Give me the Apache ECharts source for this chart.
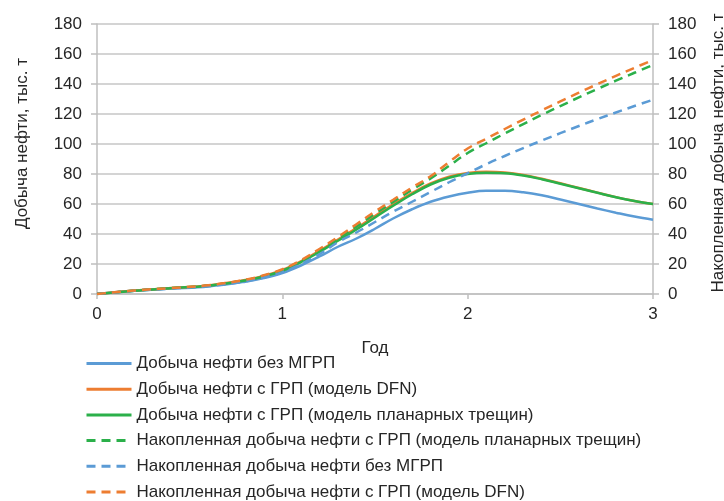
<!DOCTYPE html>
<html>
<head>
<meta charset="utf-8">
<script src="https://cdn.jsdelivr.net/npm/echarts@6/dist/echarts.min.js"></script>
<style>
  html, body { margin: 0; padding: 0; background: #fff; overflow: hidden; }
  #oil_chart { width: 724px; height: 501px; }
</style>
</head>
<body>
<div id="oil_chart"></div>
<script>
// годы (ось X)
var years = [0, 0.2, 0.4, 0.6, 0.8, 0.9, 1.0, 1.1, 1.2, 1.3, 1.4, 1.5, 1.6, 1.7, 1.8, 1.9,
  2.0, 2.1, 2.2, 2.3, 2.4, 2.5, 2.6, 2.7, 2.8, 2.9, 3.0];

// добыча нефти, тыс. т
var rateNoFrac = [0, 2.1, 3.6, 5.0, 8.2, 10.6, 14, 19, 25, 31.5, 37, 43.5, 50.5, 56.5, 61.5, 65,
  67.5, 68.8, 68.8, 67.8, 65.8, 63, 60, 57, 54.2, 51.6, 49.5];
var rateDFN = [0, 2.3, 4.0, 5.7, 9.3, 12, 16, 21.8, 28.8, 36.3, 44, 52, 60, 67.3, 73.7, 78.2,
  80.6, 81.5, 81, 79.4, 76.8, 73.8, 70.7, 67.6, 64.6, 62, 60];
var ratePlanar = [0, 2.2, 3.9, 5.5, 9, 11.7, 15.5, 21.2, 28, 35.5, 43, 51, 59, 66.5, 73, 77.5,
  80, 80.8, 80.5, 79, 76.5, 73.5, 70.5, 67.5, 64.5, 62, 60];

// накопленная добыча нефти, тыс. т
var cumPlanar = [0, 2.2, 3.9, 5.6, 9.2, 12.2, 16, 22, 29, 37, 45, 53.5, 61.5, 69.5, 77, 85.5,
  94, 100.5, 107, 113.3, 119.4, 125.3, 131.1, 136.7, 142.2, 147.5, 152.7];
var cumNoFrac = [0, 2.1, 3.6, 5.2, 8.4, 11, 14.5, 20, 26.5, 34.5, 41, 48, 55, 61.5, 68, 74.5,
  80.5, 86.5, 92, 97.3, 102.3, 107.2, 112, 116.6, 121, 125.3, 129.5];
var cumDFN = [0, 2.3, 4.0, 5.8, 9.5, 12.5, 16.5, 22.5, 30, 38, 46.5, 55, 63, 71, 78.5, 88,
  97, 103.5, 110, 116.3, 122.4, 128.4, 134.2, 139.9, 145.4, 150.8, 156];

var yTicks = [0, 20, 40, 60, 80, 100, 120, 140, 160, 180];

function pairs(vals) {
  var out = [];
  for (var i = 0; i < years.length; i++) {
    out.push([years[i], vals[i]]);
  }
  return out;
}

var BLUE = "#5B9BD5";
var ORANGE = "#ED7D31";
var GREEN = "#2BB04A";
var AXIS_GRAY = "#BFBFBF";
var TEXT = "#262626";
var FONT = "'Liberation Sans', Arial, sans-serif";

function lineSeries(name, vals, color, dashed, yIndex) {
  return {
    name: name,
    type: "line",
    yAxisIndex: yIndex,
    data: pairs(vals),
    smooth: 0.4,
    symbol: "none",
    lineStyle: {
      color: color,
      width: 2.5,
      type: dashed ? [9, 6] : "solid"
    },
    itemStyle: { color: color }
  };
}

var myChart = echarts.init(document.getElementById("oil_chart"));
var option = {
  animation: false,
  textStyle: { fontFamily: FONT, color: TEXT },
  grid: { left: 97, right: 71, top: 24, bottom: 207, outerBoundsMode: "none" },
  legend: {
    orient: "vertical",
    left: 85,
    top: 355,
    padding: 0,
    itemWidth: 45,
    itemHeight: 12,
    itemGap: 8.7,
    itemStyle: { opacity: 0 },
    lineStyle: { width: 3 },
    textStyle: { fontSize: 17, color: TEXT, fontFamily: FONT },
    data: [
      "Добыча нефти без МГРП",
      "Добыча нефти с ГРП (модель DFN)",
      "Добыча нефти с ГРП (модель планарных трещин)",
      "Накопленная добыча нефти с ГРП (модель планарных трещин)",
      "Накопленная добыча нефти без МГРП",
      "Накопленная добыча нефти с ГРП (модель DFN)"
    ]
  },
  xAxis: {
    type: "value",
    min: 0,
    max: 3,
    interval: 1,
    name: "Год",
    nameLocation: "middle",
    nameGap: 46,
    nameTextStyle: { fontSize: 17, color: TEXT },
    axisLine: { lineStyle: { color: AXIS_GRAY, width: 1.5 } },
    axisTick: { show: true, length: 5, lineStyle: { color: AXIS_GRAY, width: 1.5 } },
    axisLabel: { fontSize: 17, color: TEXT, margin: 12 },
    splitLine: { show: false }
  },
  yAxis: [
    {
      type: "value",
      position: "left",
      min: yTicks[0],
      max: yTicks[yTicks.length - 1],
      interval: 20,
      name: "Добыча нефти, тыс. т",
      nameLocation: "middle",
      nameRotate: 90,
      nameGap: 66,
      nameTextStyle: { fontSize: 17, color: TEXT, padding: [0, 0, 0, 31] },
      axisLine: { show: true, lineStyle: { color: AXIS_GRAY, width: 1.5 } },
      axisTick: { show: true, length: 6, lineStyle: { color: AXIS_GRAY, width: 1.5 } },
      axisLabel: { fontSize: 17, color: TEXT, margin: 15 },
      splitLine: { show: true, lineStyle: { color: "#C6C6C6", width: 1.5 } }
    },
    {
      type: "value",
      position: "right",
      min: yTicks[0],
      max: yTicks[yTicks.length - 1],
      interval: 20,
      name: "Накопленная добыча нефти, тыс. т",
      nameLocation: "middle",
      nameRotate: 90,
      nameGap: 57,
      nameTextStyle: { fontSize: 17, color: TEXT, padding: [0, 0, 0, 12] },
      axisLine: { show: true, lineStyle: { color: AXIS_GRAY, width: 1.5 } },
      axisTick: { show: true, length: 6, lineStyle: { color: AXIS_GRAY, width: 1.5 } },
      axisLabel: { fontSize: 17, color: TEXT, margin: 15 },
      splitLine: { show: false }
    }
  ],
  series: [
    lineSeries("Добыча нефти без МГРП", rateNoFrac, BLUE, false, 0),
    lineSeries("Добыча нефти с ГРП (модель DFN)", rateDFN, ORANGE, false, 0),
    lineSeries("Добыча нефти с ГРП (модель планарных трещин)", ratePlanar, GREEN, false, 0),
    lineSeries("Накопленная добыча нефти с ГРП (модель планарных трещин)", cumPlanar, GREEN, true, 1),
    lineSeries("Накопленная добыча нефти без МГРП", cumNoFrac, BLUE, true, 1),
    lineSeries("Накопленная добыча нефти с ГРП (модель DFN)", cumDFN, ORANGE, true, 1)
  ]
};
myChart.setOption(option);

window.addEventListener("resize", function() {
  myChart.resize();
});
</script>
</body>
</html>
